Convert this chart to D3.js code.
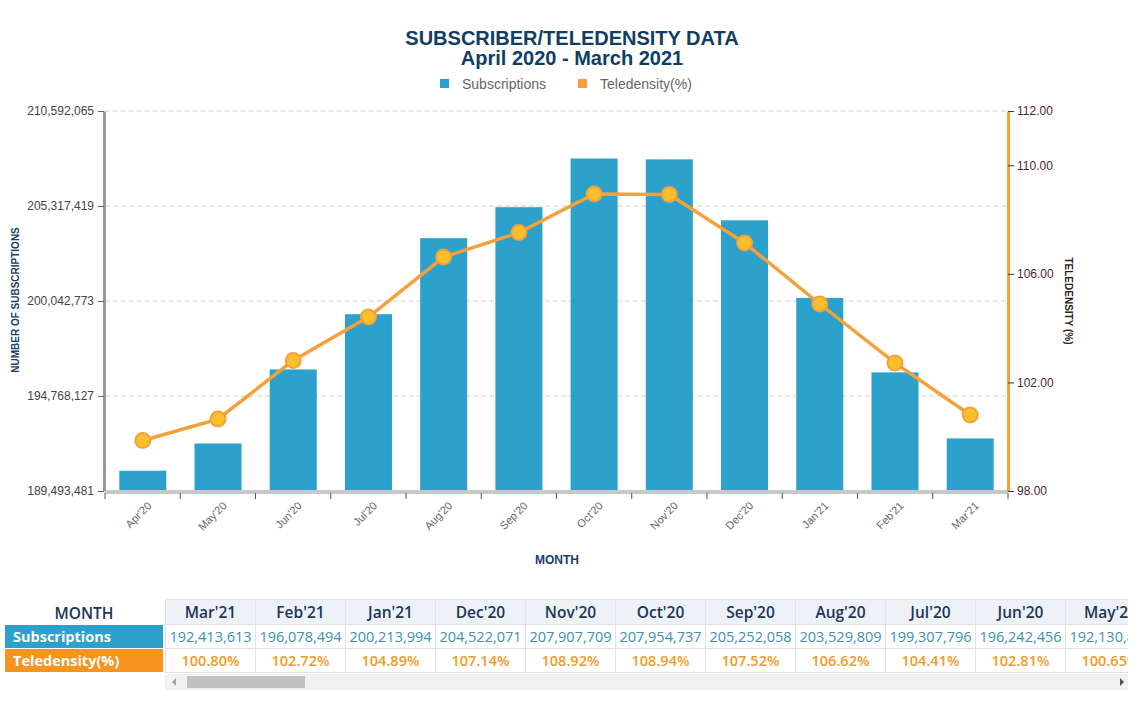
<!DOCTYPE html>
<html><head><meta charset="utf-8">
<script src="https://cdn.jsdelivr.net/npm/d3@7"></script>
<style>
html,body{margin:0;padding:0;background:#fff;width:1140px;height:702px;overflow:hidden;font-family:"Liberation Sans",Arial,sans-serif;}
#chart{position:absolute;left:0;top:0;}
#tbl{position:absolute;left:5px;top:599px;font-family:"Open Sans",sans-serif;}
table{border-collapse:collapse;}
#left{position:absolute;left:0;top:0;width:158px;}
#left div{height:23px;line-height:23px;font-weight:bold;box-sizing:border-box;}
#scroll{position:absolute;left:160px;top:0;width:963px;overflow:hidden;}
#scroll table td{width:89px;min-width:89px;height:23px;border:1px solid #dde3e8;text-align:center;font-size:14.5px;padding:0;white-space:nowrap;}
#sb{position:absolute;left:160px;top:75px;width:963px;height:16px;background:#f1f1f1;}
</style></head>
<body>
<svg id="chart" width="1140" height="600"></svg>
<div id="tbl">
  <div id="left"></div>
  <div id="scroll"><table id="t"></table></div>
  <div id="sb"></div>
</div>
<script>
const months = ["Apr'20","May'20","Jun'20","Jul'20","Aug'20","Sep'20","Oct'20","Nov'20","Dec'20","Jan'21","Feb'21","Mar'21"];
const subscriptions = [190620003,192130860,196242456,199307796,203529809,205252058,207954737,207907709,204522071,200213994,196078494,192413613];
const teledensity = [99.86,100.65,102.81,104.41,106.62,107.52,108.94,108.92,107.14,104.89,102.72,100.80];
const leftTicks = [189493481,194768127,200042773,205317419,210592065];
const rightTicks = [98,102,106,110,112];

const svg = d3.select("#chart");
const L=105,R=1008,T=111,B=491;
const x = d3.scaleBand().domain(months).range([L,R]).paddingInner(0.375).paddingOuter(0.19);
const y = d3.scaleLinear().domain([leftTicks[0],leftTicks[4]]).range([B,T]);
const y2 = d3.scaleLinear().domain([98,112]).range([B,T]);

// title
svg.append("text").attr("x",572).attr("y",45).attr("text-anchor","middle").attr("fill","#103d63")
  .style("font-size","20px").style("font-weight","bold").text("SUBSCRIBER/TELEDENSITY DATA");
svg.append("text").attr("x",572).attr("y",65).attr("text-anchor","middle").attr("fill","#103d63")
  .style("font-size","20px").style("font-weight","bold").text("April 2020 - March 2021");
// legend
const leg=[["Subscriptions","#2ba1cb",440,462],["Teledensity(%)","#f4a13a",578,600]];
leg.forEach(d=>{
  svg.append("rect").attr("x",d[2]).attr("y",79).attr("width",9).attr("height",9).attr("fill",d[1]);
  svg.append("text").attr("x",d[3]).attr("y",89).attr("fill","#666").style("font-size","14px").text(d[0]);
});

// gridlines
svg.append("g").selectAll("line").data(leftTicks).join("line")
  .attr("x1",L).attr("x2",R).attr("y1",d=>y(d)).attr("y2",d=>y(d))
  .attr("stroke","#d0d0d0").attr("stroke-dasharray","5,3");

// bars
svg.append("g").selectAll("rect").data(months).join("rect")
  .attr("x",d=>x(d)).attr("width",x.bandwidth())
  .attr("y",(d,i)=>y(subscriptions[i])).attr("height",(d,i)=>B-y(subscriptions[i]))
  .attr("fill","#2ba1cb");

// left axis
const la = svg.append("g").attr("transform",`translate(${L-1},0)`)
  .call(d3.axisLeft(y).tickValues(leftTicks).tickFormat(d3.format(",")).tickSize(6).tickSizeOuter(0));
la.select(".domain").attr("stroke","#999").attr("stroke-width",3);
la.selectAll(".tick line").attr("stroke","#666");
la.selectAll("text").attr("fill","#444").style("font-size","12px").style("font-family","Liberation Sans, Arial").attr("dx","-1");

// bottom axis
const ba = svg.append("g").attr("transform",`translate(0,${B+1})`);
ba.append("line").attr("x1",L).attr("x2",R).attr("stroke","#c8c8c8").attr("stroke-width",4);
ba.selectAll("line.tk").data(d3.range(13)).join("line").attr("class","tk")
  .attr("x1",i=>L+i*(R-L)/12).attr("x2",i=>L+i*(R-L)/12).attr("y1",1).attr("y2",7).attr("stroke","#555");
ba.selectAll("text").data(months).join("text")
  .attr("transform",d=>`translate(${x(d)+x.bandwidth()/2+4},${9}) rotate(-45)`)
  .attr("text-anchor","end").attr("dy","0.7em").attr("fill","#666").style("font-size","11px").text(d=>d);

// right axis
const ra = svg.append("g").attr("transform",`translate(${R},0)`)
  .call(d3.axisRight(y2).tickValues(rightTicks).tickFormat(d3.format(".2f")).tickSize(6).tickSizeOuter(0));
ra.select(".domain").attr("stroke","#f4a13a").attr("stroke-width",3);
ra.selectAll(".tick line").attr("stroke","#333");
ra.selectAll("text").attr("fill","#4d2536").style("font-size","12px").style("font-family","Liberation Sans, Arial");

// line
const line = d3.line().x((d,i)=>x(months[i])+x.bandwidth()/2).y(d=>y2(d));
svg.append("path").datum(teledensity).attr("d",line).attr("fill","none").attr("stroke","#f4a13a").attr("stroke-width",3.5);
svg.append("g").selectAll("circle").data(teledensity).join("circle")
  .attr("cx",(d,i)=>x(months[i])+x.bandwidth()/2).attr("cy",d=>y2(d)).attr("r",7.5)
  .attr("fill","#f9c02c").attr("stroke","#f4a13a").attr("stroke-width",2);

// axis titles
svg.append("text").attr("transform","translate(19,300) rotate(-90)").attr("text-anchor","middle")
  .attr("fill","#17406a").style("font-size","10px").style("font-weight","bold").text("NUMBER OF SUBSCRIPTIONS");
svg.append("text").attr("transform","translate(1065,301) rotate(90)").attr("text-anchor","middle")
  .attr("fill","#222").style("font-size","10px").style("font-weight","bold").text("TELEDENSITY (%)");
svg.append("text").attr("x",557).attr("y",564).attr("text-anchor","middle")
  .attr("fill","#17406a").style("font-size","12px").style("font-weight","bold").text("MONTH");

// table
const left = d3.select("#left");
left.append("div").style("text-align","center").style("color","#1c3558").style("font-size","15.5px").style("height","24px").style("line-height","28px").style("font-weight","600").text("MONTH");
left.append("div").style("background","#2ba1cb").style("color","#fff").style("padding-left","8px").style("font-size","14.5px").style("margin-top","2px").text("Subscriptions");
left.append("div").style("background","#f7941d").style("color","#fff").style("padding-left","8px").style("font-size","14.5px").style("margin-top","1px").text("Teledensity(%)");

const order = d3.range(months.length).reverse();
const t = d3.select("#t");
t.append("tr").selectAll("td").data(order).join("td")
  .style("background","#eef2f6").style("color","#1c3558").style("font-size","15.5px").style("font-weight","600").style("height","24px")
  .text(i=>months[i]);
t.append("tr").selectAll("td").data(order).join("td")
  .style("color","#3d8fb3").text(i=>d3.format(",")(subscriptions[i]));
t.append("tr").selectAll("td").data(order).join("td")
  .style("color","#f09a2a").style("font-weight","600").text(i=>teledensity[i].toFixed(2)+"%");

const sb = d3.select("#sb");
sb.append("div").style("position","absolute").style("left","22px").style("top","2px").style("width","118px").style("height","12px").style("background","#c1c1c1");
sb.append("div").style("position","absolute").style("left","7px").style("top","4px").style("width","0").style("height","0")
  .style("border-top","4px solid transparent").style("border-bottom","4px solid transparent").style("border-right","4px solid #a0a0a0");
sb.append("div").style("position","absolute").style("left","955px").style("top","4px").style("width","0").style("height","0")
  .style("border-top","4px solid transparent").style("border-bottom","4px solid transparent").style("border-left","4px solid #505050");
</script>
</body></html>
